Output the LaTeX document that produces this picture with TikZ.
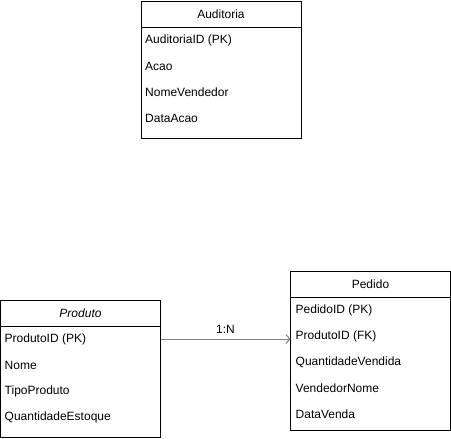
\documentclass[tikz,border=0pt]{standalone}
\usepackage{fontspec}
\setmainfont{Liberation Sans}
\usetikzlibrary{positioning,arrows.meta}

\tikzset{
  header/.style={draw, line width=1pt, minimum width=160pt, minimum height=26pt, inner sep=0pt, outer sep=0pt, anchor=north west, font=\fontsize{12}{14}\selectfont},
  attrbox/.style={draw, line width=1pt, minimum width=160pt, inner sep=0pt, outer sep=0pt},
  attr/.style={anchor=west, inner sep=0pt, font=\fontsize{12}{14}\selectfont},
  conn/.style={draw=gray, line width=1pt, -{Straight Barb[length=4pt,width=9pt]}}
}

\begin{document}
\begin{tikzpicture}[x=1pt, y=-1pt]
\useasboundingbox (0,0) rectangle (451,439);
% Auditoria
\node[header] (aud) at (141,1) {Auditoria};
\node[attrbox, minimum height=111pt, below right=0pt and 0pt of aud.south west] (audbody) {};
\node[attr] (aud1) at ([xshift=4pt,yshift=-13pt]aud.south west) {AuditoriaID (PK)};
\node[attr] (aud2) at ([yshift=-26pt]aud1.west) {Acao};
\node[attr] (aud3) at ([yshift=-26pt]aud2.west) {NomeVendedor};
\node[attr] (aud4) at ([yshift=-26pt]aud3.west) {DataAcao};

% Produto
\node[header, font=\fontsize{12}{14}\selectfont\itshape] (prod) at (0.5,300) {Produto};
\node[attrbox, minimum height=111pt, below right=0pt and 0pt of prod.south west] (prodbody) {};
\node[attr] (prod1) at ([xshift=4pt,yshift=-13pt]prod.south west) {ProdutoID (PK)};
\node[attr] (prod2) at ([yshift=-26pt]prod1.west) {Nome};
\node[attr] (prod3) at ([yshift=-26pt]prod2.west) {TipoProduto};
\node[attr] (prod4) at ([yshift=-26pt]prod3.west) {QuantidadeEstoque};

% Pedido
\node[header] (ped) at (290.5,271) {Pedido};
\node[attrbox, minimum height=133pt, below right=0pt and 0pt of ped.south west] (pedbody) {};
\node[attr] (ped1) at ([xshift=5pt,yshift=-13pt]ped.south west) {PedidoID (PK)};
\node[attr] (ped2) at ([yshift=-26pt]ped1.west) {ProdutoID (FK)};
\node[attr] (ped3) at ([yshift=-26pt]ped2.west) {QuantidadeVendida};
\node[attr] (ped4) at ([yshift=-26pt]ped3.west) {VendedorNome};
\node[attr] (ped5) at ([yshift=-26pt]ped4.west) {DataVenda};

	\draw[conn] (prod1.west -| prodbody.east) -- (prod1.west -| pedbody.west) node[midway, above=2pt, font=\fontsize{12}{14}\selectfont, text=black]{1:N};
\end{tikzpicture}
\end{document}
